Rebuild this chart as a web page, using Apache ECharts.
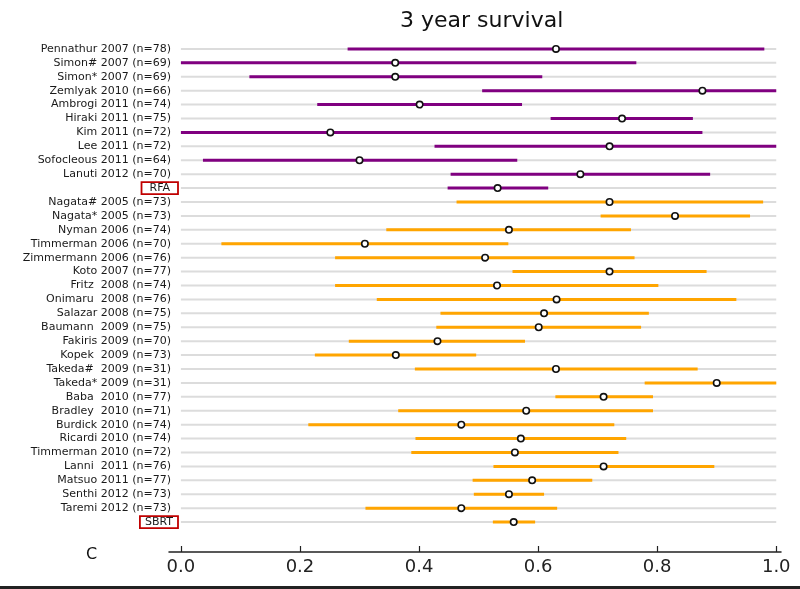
<!DOCTYPE html>
<html>
<head>
<meta charset="utf-8">
<script src="https://cdn.jsdelivr.net/npm/echarts@6/dist/echarts.min.js"></script>
<style>
    html, body { margin: 0; padding: 0; background: #fff; }
    #chart { width: 800px; height: 589px; }
</style>
</head>
<body>
<div id="chart"></div>
<script>
    // study labels, top to bottom
    const studies = [
        'Pennathur 2007 (n=78)', 'Simon# 2007 (n=69)', 'Simon* 2007 (n=69)', 'Zemlyak 2010 (n=66)',
        'Ambrogi 2011 (n=74)', 'Hiraki 2011 (n=75)', 'Kim 2011 (n=72)', 'Lee 2011 (n=72)',
        'Sofocleous 2011 (n=64)', 'Lanuti 2012 (n=70)', 'RFA',
        'Nagata# 2005 (n=73)', 'Nagata* 2005 (n=73)', 'Nyman 2006 (n=74)', 'Timmerman 2006 (n=70)',
        'Zimmermann 2006 (n=76)', 'Koto 2007 (n=77)', 'Fritz  2008 (n=74)', 'Onimaru  2008 (n=76)',
        'Salazar 2008 (n=75)', 'Baumann  2009 (n=75)', 'Fakiris 2009 (n=70)', 'Kopek  2009 (n=73)',
        'Takeda#  2009 (n=31)', 'Takeda* 2009 (n=31)', 'Baba  2010 (n=77)', 'Bradley  2010 (n=71)',
        'Burdick 2010 (n=74)', 'Ricardi 2010 (n=74)', 'Timmerman 2010 (n=72)', 'Lanni  2011 (n=76)',
        'Matsuo 2011 (n=77)', 'Senthi 2012 (n=73)', 'Taremi 2012 (n=73)', 'SBRT'
    ];
    const arm = [
        'RFA', 'RFA', 'RFA', 'RFA', 'RFA', 'RFA', 'RFA', 'RFA', 'RFA', 'RFA', 'RFA',
        'SBRT', 'SBRT', 'SBRT', 'SBRT', 'SBRT', 'SBRT', 'SBRT', 'SBRT', 'SBRT', 'SBRT', 'SBRT', 'SBRT',
        'SBRT', 'SBRT', 'SBRT', 'SBRT', 'SBRT', 'SBRT', 'SBRT', 'SBRT', 'SBRT', 'SBRT', 'SBRT', 'SBRT'
    ];
    const survival = [
        0.63, 0.36, 0.36, 0.876, 0.401, 0.741, 0.251, 0.72, 0.30, 0.671, 0.532,
        0.72, 0.83, 0.551, 0.309, 0.511, 0.72, 0.531, 0.631, 0.61, 0.601, 0.431, 0.361,
        0.63, 0.90, 0.71, 0.58, 0.471, 0.571, 0.561, 0.71, 0.59, 0.551, 0.471, 0.559
    ];
    const lower = [
        0.28, 0.0, 0.115, 0.506, 0.229, 0.621, 0.0, 0.426, 0.037, 0.453, 0.448,
        0.463, 0.705, 0.345, 0.068, 0.259, 0.557, 0.259, 0.329, 0.436, 0.429, 0.282, 0.225,
        0.393, 0.779, 0.629, 0.365, 0.214, 0.394, 0.387, 0.525, 0.49, 0.492, 0.31, 0.524
    ];
    const upper = [
        0.98, 0.765, 0.607, 1.0, 0.573, 0.86, 0.876, 1.0, 0.565, 0.889, 0.617,
        0.978, 0.956, 0.756, 0.55, 0.762, 0.883, 0.802, 0.933, 0.786, 0.773, 0.578, 0.496,
        0.868, 1.0, 0.793, 0.793, 0.728, 0.748, 0.735, 0.896, 0.691, 0.61, 0.632, 0.595
    ];
    const ticks = [0, 0.2, 0.4, 0.6, 0.8, 1.0];
    const armColor = { RFA: '#800080', SBRT: '#ffa500' };

    let myChart = echarts.init(document.getElementById('chart'));

    let rows = [];
    for (let i = 0; i < studies.length; i++) {
        rows.push([i, lower[i], survival[i], upper[i]]);
    }

    let option = {
        animation: false,
        textStyle: { fontFamily: 'DejaVu Sans' },
        title: {
            text: '3 year survival',
            left: 395,
            top: 5,
            textStyle: { fontSize: 22, fontWeight: 'normal', color: '#111', fontFamily: 'DejaVu Sans' }
        },
        grid: {
            left: 169,
            right: 19,
            top: 42,
            bottom: 60
        },
        xAxis: {
            type: 'value',
            min: -0.02,
            max: 1.008,
            offset: 23,
            splitLine: { show: false },
            axisLine: { show: true, lineStyle: { color: '#222', width: 1.5 } },
            axisTick: {
                show: true,
                inside: true,
                length: 6,
                customValues: ticks,
                lineStyle: { color: '#222', width: 1.2 }
            },
            axisLabel: {
                customValues: ticks,
                fontSize: 18,
                color: '#222',
                margin: 6,
                formatter: function (v) { return v.toFixed(1); }
            }
        },
        yAxis: {
            type: 'category',
            data: studies,
            inverse: true,
            axisLine: { show: false },
            axisTick: { show: false },
            splitLine: { show: false },
            axisLabel: {
                interval: 0,
                margin: -9,
                formatter: function (v) {
                    if (v === 'RFA') return '{boxA|' + v + '}';
                    if (v === 'SBRT') return '{boxB|' + v + '}';
                    return '{n|' + v + '}';
                },
                rich: {
                    n: { fontSize: 11, color: '#1a1a1a', padding: [0, 7, 0, 0] },
                    boxA: {
                        fontSize: 11, color: '#1a1a1a', borderColor: '#c00000', borderWidth: 1.8,
                        padding: [1, 8, 0, 8]
                    },
                    boxB: {
                        fontSize: 11, color: '#1a1a1a', borderColor: '#c00000', borderWidth: 1.8,
                        padding: [1, 5, 0, 5]
                    }
                }
            }
        },
        graphic: [
            {
                type: 'text',
                left: 86,
                top: 547,
                style: { text: 'C', fontSize: 16, fill: '#111', fontFamily: 'DejaVu Sans' }
            },
            {
                type: 'rect',
                left: 0,
                bottom: 0,
                shape: { width: 800, height: 3 },
                style: { fill: '#222' }
            }
        ],
        series: [{
            type: 'custom',
            data: rows,
            encode: { y: 0, x: [1, 2, 3] },
            renderItem: function (params, api) {
                let idx = api.value(0);
                let color = armColor[arm[idx]];
                let g0 = api.coord([0, idx]);
                let g1 = api.coord([1, idx]);
                let lo = api.coord([api.value(1), idx]);
                let mid = api.coord([api.value(2), idx]);
                let hi = api.coord([api.value(3), idx]);
                return {
                    type: 'group',
                    children: [
                        {
                            type: 'line',
                            shape: { x1: g0[0], y1: g0[1], x2: g1[0], y2: g1[1] },
                            style: { stroke: '#dcdcdc', lineWidth: 2 }
                        },
                        {
                            type: 'line',
                            shape: { x1: lo[0], y1: lo[1], x2: hi[0], y2: hi[1] },
                            style: { stroke: color, lineWidth: 3 }
                        },
                        {
                            type: 'circle',
                            shape: { cx: mid[0], cy: mid[1], r: 3.2 },
                            style: { fill: '#fff', stroke: '#111', lineWidth: 1.6 }
                        }
                    ]
                };
            }
        }]
    };
    myChart.setOption(option);
</script>
</body>
</html>
